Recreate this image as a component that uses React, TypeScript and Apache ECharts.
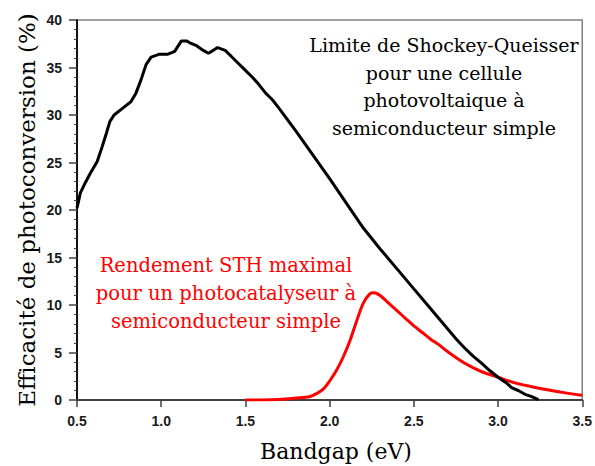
import React, { useEffect, useRef } from "react";
import * as echarts from "echarts";

// Shockley-Queisser limit (black)
const sqBandgap = [0.5, 0.52, 0.55, 0.58, 0.62, 0.65, 0.675, 0.695, 0.72, 0.77, 0.82, 0.85, 0.88, 0.91, 0.94, 0.99, 1.04, 1.08, 1.12, 1.15, 1.17, 1.21, 1.25, 1.28, 1.3, 1.335, 1.38, 1.42, 1.46, 1.5, 1.54, 1.58, 1.62, 1.66, 1.7, 1.8, 1.9, 2.0, 2.1, 2.2, 2.3, 2.4, 2.5, 2.6, 2.7, 2.75, 2.8, 2.85, 2.9, 2.95, 3.0, 3.05, 3.08, 3.12, 3.16, 3.2, 3.24];
const sqEfficiency = [20.2, 21.8, 22.9, 23.9, 25.1, 26.7, 28.1, 29.3, 30.0, 30.7, 31.4, 32.3, 33.7, 35.3, 36.1, 36.4, 36.4, 36.7, 37.8, 37.8, 37.6, 37.3, 36.8, 36.5, 36.7, 37.1, 36.8, 36.1, 35.4, 34.7, 34.0, 33.2, 32.3, 31.6, 30.7, 28.3, 25.8, 23.3, 20.7, 18.1, 15.9, 13.8, 11.7, 9.6, 7.5, 6.45, 5.5, 4.65, 3.9, 3.1, 2.4, 1.8, 1.3, 1.0, 0.6, 0.35, 0.05];

// Maximal STH efficiency (red)
const sthBandgap = [1.5, 1.6, 1.7, 1.8, 1.88, 1.925, 1.965, 2.0, 2.04, 2.08, 2.12, 2.16, 2.2, 2.24, 2.265, 2.3, 2.35, 2.4, 2.45, 2.5, 2.55, 2.6, 2.65, 2.7, 2.8, 2.9, 3.0, 3.1, 3.2, 3.3, 3.4, 3.5];
const sthEfficiency = [0, 0, 0.05, 0.2, 0.35, 0.7, 1.2, 2.0, 3.1, 4.5, 6.2, 8.3, 10.2, 11.2, 11.3, 11.0, 10.2, 9.4, 8.6, 7.8, 7.1, 6.4, 5.8, 5.1, 3.9, 3.0, 2.4, 1.8, 1.4, 1.05, 0.75, 0.5];

const xTitle = "Bandgap (eV)";
const yTitle = "Efficacité de photoconversion (%)";
const sqNote = ["Limite de Shockey-Queisser", "pour une cellule", "photovoltaique à", "semiconducteur simple"];
const sthNote = ["Rendement STH maximal", "pour un photocatalyseur à", "semiconducteur simple"];

const serif = "'DejaVu Serif', 'Liberation Serif', serif";

export default function App() {
  const ref = useRef<HTMLDivElement>(null);
  useEffect(() => {
    if (!ref.current) return;
    const chart = echarts.init(ref.current, null, { renderer: "svg" });
    const sqData = sqBandgap.map((x, i) => [x, sqEfficiency[i]]);
    const sthData = sthBandgap.map((x, i) => [x, sthEfficiency[i]]);
    chart.setOption({
      animation: false,
      backgroundColor: "#ffffff",
      grid: {
        left: 77,
        top: 20,
        right: 10,
        bottom: 66,
        show: true,
        borderColor: "#808080",
        borderWidth: 1.5,
        backgroundColor: "transparent",
      },
      xAxis: {
        type: "value",
        min: 0.5,
        max: 3.5,
        interval: 0.5,
        axisLine: { show: true, lineStyle: { color: "#404040", width: 2 } },
        axisTick: { show: true, length: 7, lineStyle: { color: "#404040", width: 1.5 } },
        splitLine: { show: false },
        axisLabel: {
          margin: 14,
          color: "#1a1a1a",
          fontFamily: "'Liberation Sans', Arial, sans-serif",
          fontWeight: "bold",
          fontSize: 14,
          formatter: (v: number) => v.toFixed(1),
        },
      },
      yAxis: {
        type: "value",
        min: 0,
        max: 40,
        interval: 5,
        axisLine: { show: true, lineStyle: { color: "#111111", width: 2 } },
        axisTick: { show: true, length: 8, lineStyle: { color: "#404040", width: 1.5 } },
        minorTick: { show: true, splitNumber: 5, length: 3, lineStyle: { color: "#404040", width: 1 } },
        splitLine: { show: false },
        axisLabel: {
          margin: 15,
          color: "#1a1a1a",
          fontFamily: "'Liberation Sans', Arial, sans-serif",
          fontWeight: "bold",
          fontSize: 14,
        },
      },
      series: [
        {
          type: "line",
          data: sthData,
          showSymbol: false,
          smooth: 0.3,
          lineStyle: { color: "#ff0000", width: 3 },
          z: 3,
        },
        {
          type: "line",
          data: sqData,
          showSymbol: false,
          smooth: false,
          lineStyle: { color: "#000000", width: 3 },
          z: 4,
        },
      ],
      graphic: [
        {
          type: "text",
          x: 27,
          y: 210,
          rotation: Math.PI / 2,
          style: {
            text: yTitle,
            font: `23px ${serif}`,
            fill: "#000",
            textAlign: "center",
            textVerticalAlign: "middle",
          },
        },
        {
          type: "text",
          x: 336,
          y: 451,
          style: {
            text: xTitle,
            font: `22px ${serif}`,
            fill: "#000",
            textAlign: "center",
            textVerticalAlign: "middle",
          },
        },
        ...sqNote.map((t, i) => ({
          type: "text",
          x: 444,
          y: 45 + i * 27.7,
          style: {
            text: t,
            font: `19px ${serif}`,
            fill: "#000",
            textAlign: "center",
            textVerticalAlign: "middle",
          },
        })),
        ...sthNote.map((t, i) => ({
          type: "text",
          x: 226,
          y: 265 + i * 28,
          style: {
            text: t,
            font: `19.5px ${serif}`,
            fill: "#ff0000",
            textAlign: "center",
            textVerticalAlign: "middle",
          },
        })),
      ],
    });
    return () => chart.dispose();
  }, []);
  return (
    <div
      ref={ref}
      style={{ width: 595, height: 466, position: "absolute", left: 0, top: 0 }}
    />
  );
}
